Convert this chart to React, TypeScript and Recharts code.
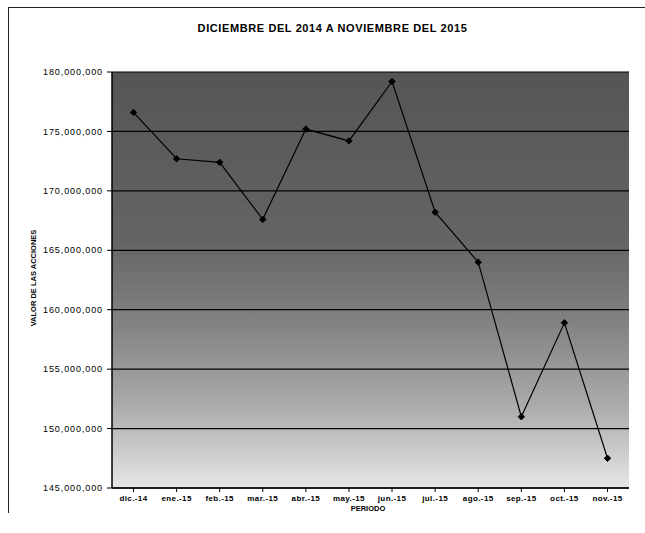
import React from "react"
import {CartesianGrid, Line, LineChart, XAxis, YAxis} from "recharts"

const periods = ["dic.-14", "ene.-15", "feb.-15", "mar.-15", "abr.-15", "may.-15", "jun.-15", "jul.-15", "ago.-15", "sep.-15", "oct.-15", "nov.-15"]
const stockValues = [176600000, 172700000, 172400000, 167600000, 175200000, 174200000, 179200000, 168200000, 164000000, 151000000, 158900000, 147500000]
const yTicks = [145000000, 150000000, 155000000, 160000000, 165000000, 170000000, 175000000, 180000000]

const chartTitle = "DICIEMBRE DEL 2014 A NOVIEMBRE DEL 2015"
const yTitle = "VALOR DE LAS ACCIONES"
const xTitle = "PERIODO"

const data = periods.map((p, i) => ({periodo: p, valor: stockValues[i]}))

const font = "'Liberation Sans', Arial, sans-serif"

function Diamond(props: any) {
    const {cx, cy, index} = props
    if (cx == null || cy == null) return null
    const s = 3.2
    return (
        <polygon
            key={`d-${index}`}
            points={`${cx},${cy - s} ${cx + s},${cy} ${cx},${cy + s} ${cx - s},${cy}`}
            fill="#000"
            stroke="#000"
        />
    )
}

export default function App() {
    return (
        <div style={{position: "absolute", left: 0, top: 0, width: 645, height: 533, background: "#fff", fontFamily: font}}>
            <div style={{position: "absolute", left: 8, top: 7, width: 636, height: 505, borderTop: "1px solid #222", borderLeft: "1px solid #222"}}/>
            <div style={{position: "absolute", left: 0, top: 22, width: 665, textAlign: "center", fontSize: 11, fontWeight: "bold", letterSpacing: 0.6, color: "#000"}}>
                {chartTitle}
            </div>
            <div style={{position: "absolute", left: 33, top: 278, transform: "translate(-50%, -50%) rotate(-90deg)", whiteSpace: "nowrap", fontSize: 7.5, fontWeight: "bold", color: "#000"}}>
                {yTitle}
            </div>
            <div style={{position: "absolute", left: 368, top: 508, transform: "translate(-50%, -50%)", whiteSpace: "nowrap", fontSize: 7.5, fontWeight: "bold", color: "#000"}}>
                {xTitle}
            </div>
            <div style={{position: "absolute", left: 0, top: 0}}>
                <LineChart width={645} height={533} data={data} margin={{top: 72, right: 16, bottom: 0, left: 0}}>
                    <defs>
                        <linearGradient id="plotBg" x1="0" y1="0" x2="0" y2="1">
                            <stop offset="0%" stopColor="#555"/>
                            <stop offset="40%" stopColor="#646464"/>
                            <stop offset="62%" stopColor="#858585"/>
                            <stop offset="80%" stopColor="#aaaaaa"/>
                            <stop offset="100%" stopColor="#e6e6e6"/>
                        </linearGradient>
                    </defs>
                    <CartesianGrid vertical={false} stroke="#000" strokeWidth={1.2} fill="url(#plotBg)" fillOpacity={1}/>
                    <XAxis
                        dataKey="periodo"
                        height={45}
                        padding={{left: 21.5, right: 21.5}}
                        axisLine={{stroke: "#000", strokeWidth: 1.5}}
                        tickLine={{stroke: "#000"}}
                        tickSize={4}
                        tickMargin={3}
                        interval={0}
                        tick={{fontSize: 8, fill: "#000", fontFamily: font, fontWeight: "bold", letterSpacing: 0.4}}
                    />
                    <XAxis xAxisId="top" dataKey="periodo" orientation="top" height={0} tick={false} tickLine={false} axisLine={{stroke: "#000", strokeWidth: 1}}/>
                    <YAxis
                        width={112}
                        domain={[145000000, 180000000]}
                        ticks={yTicks}
                        allowDataOverflow
                        axisLine={{stroke: "#000", strokeWidth: 1.5}}
                        tickLine={{stroke: "#000"}}
                        tickSize={5}
                        tickMargin={4}
                        tickFormatter={(v: number) => v.toLocaleString("en-US")}
                        tick={{fontSize: 9, fill: "#000", fontFamily: font, letterSpacing: 0.9}}
                    />
                    <YAxis yAxisId="right" orientation="right" width={0} domain={[145000000, 180000000]} tick={false} tickLine={false} axisLine={{stroke: "#000", strokeWidth: 1}}/>
                    <Line
                        type="linear"
                        dataKey="valor"
                        stroke="#000"
                        strokeWidth={1.2}
                        dot={<Diamond/>}
                        activeDot={false}
                        isAnimationActive={false}
                    />
                </LineChart>
            </div>
        </div>
    )
}
